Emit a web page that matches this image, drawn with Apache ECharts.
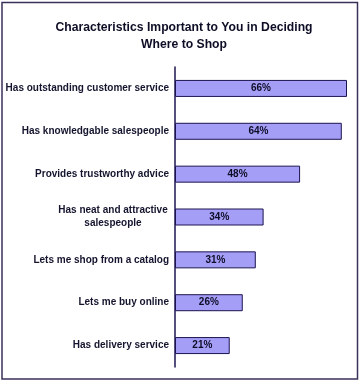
<!DOCTYPE html>
<html><head><meta charset="utf-8">
<script src="https://cdn.jsdelivr.net/npm/echarts@6/dist/echarts.min.js"></script>
<style>html,body{margin:0;padding:0;background:#fff}#c{width:360px;height:381px}</style>
</head><body><div id="c"></div>
<script>
const categories = [
  "Has outstanding customer service",
  "Has knowledgable salespeople",
  "Provides trustworthy advice",
  "Has neat and attractive\nsalespeople",
  "Lets me shop from a catalog",
  "Lets me buy online",
  "Has delivery service"
];
const values = [66, 64, 48, 34, 31, 26, 21];
const titleText = "Characteristics Important to You in Deciding\nWhere to Shop";

const chart = echarts.init(document.getElementById('c'), null, {renderer: 'canvas'});
const font = '"Liberation Sans", Arial, sans-serif';
chart.setOption({
  animation: false,
  backgroundColor: '#fff',
  title: {
    text: titleText, left: 179, top: 14, textAlign: 'center',
    textStyle: {fontFamily: font, fontWeight: 'bold', fontSize: 12.2, color: '#0d0d26', lineHeight: 17}
  },
  graphic: [{
    type: 'rect', shape: {x: 2, y: 2.5, width: 355.5, height: 376.5},
    style: {fill: 'none', stroke: '#3b3158', lineWidth: 1.5}, silent: true
  }],
  grid: {left: 175, top: 67, width: 172, height: 300, containLabel: false, outerBoundsMode: 'none'},
  xAxis: {type: 'value', min: 0, max: 66, show: false},
  yAxis: {
    type: 'category', data: categories, inverse: true,
    axisLine: {show: true, lineStyle: {color: '#1c1450', width: 1.5}},
    axisTick: {show: false},
    axisLabel: {
      margin: 6, fontFamily: font, fontWeight: 'bold', fontSize: 10, color: '#14142e',
      lineHeight: 13,
      formatter: function (v) {
        if (v.indexOf('\n') >= 0) {
          return v.split('\n').map(s => '{c|' + s + '}').join('\n');
        }
        return v;
      },
      rich: {c: {width: 112, align: 'center', fontFamily: font, fontWeight: 'bold', fontSize: 10, color: '#14142e', lineHeight: 13}}
    }
  },
  series: [{
    type: 'bar', data: values, barWidth: 17,
    itemStyle: {color: '#a59ef7', borderColor: '#1c1450', borderWidth: 1},
    label: {
      show: true, position: 'inside', formatter: '{c}%',
      fontFamily: font, fontWeight: 'bold', fontSize: 10, color: '#0d0d26'
    }
  }]
});
</script></body></html>
